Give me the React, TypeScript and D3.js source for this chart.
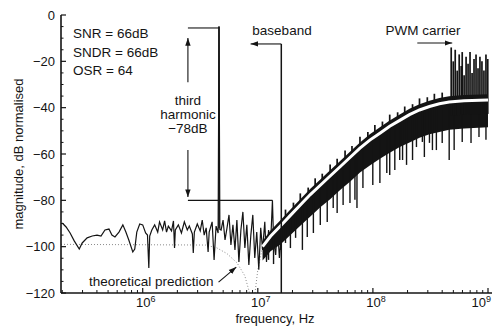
import React from "react";
import * as d3 from "d3";

// spectrum below ~17 MHz, read point by point: [frequency Hz, magnitude dB]
const lowTrace: [number, number][] = [
  [2.0e5, -89.8], [2.16e5, -91.5], [2.34e5, -94.1], [2.54e5, -97.5], [2.81e5, -101],
  [2.98e5, -98.4], [3.29e5, -96.2], [3.64e5, -95.4], [4.01e5, -95], [4.34e5, -95.4],
  [4.7e5, -92.8], [5.09e5, -92.4], [5.4e5, -95], [5.74e5, -95.8], [6.22e5, -93.7],
  [6.72e5, -90.6], [7.14e5, -93.7], [7.57e5, -97.1], [8.2e5, -102.3], [8.53e5, -101],
  [8.88e5, -93.7], [9.42e5, -90.2], [1.0e6, -90.6], [1.06e6, -94.1], [1.1e6, -95],
  [1.13e6, -109.2], [1.15e6, -95.4], [1.2e6, -92.8], [1.27e6, -90.6], [1.35e6, -93.7],
  [1.4e6, -89.3], [1.49e6, -92.8], [1.55e6, -88.9], [1.61e6, -93.7], [1.67e6, -91.1],
  [1.78e6, -93.2], [1.85e6, -88.9], [1.89e6, -100.6], [1.92e6, -92.8], [2.04e6, -90.6],
  [2.17e6, -94.1], [2.3e6, -89.3], [2.44e6, -92.8], [2.54e6, -91.1], [2.7e6, -94.5],
  [2.75e6, -102.7], [2.81e6, -93.7], [2.98e6, -90.2], [3.16e6, -93.2], [3.29e6, -88.5],
  [3.42e6, -95], [3.56e6, -91.9], [3.7e6, -102.3], [3.78e6, -93.7], [4.01e6, -89.3],
  [4.17e6, -105.7], [4.34e6, -91.1], [4.52e6, -94.1], [4.6e6, -5], [4.68e6, -92.5],
  [4.8e6, -92.8], [4.99e6, -88.5], [5.19e6, -97.1], [5.4e6, -91.9], [5.62e6, -86.3],
  [5.84e6, -99.3], [6.08e6, -90.6], [6.33e6, -101.4], [6.58e6, -88.5], [6.85e6, -106.6],
  [7.13e6, -92.8], [7.42e6, -85], [7.72e6, -100.6], [8.03e6, -90.6], [8.36e6, -107.9],
  [8.7e6, -95], [9.05e6, -86.3], [9.41e6, -104.9], [9.79e6, -93.7], [1.02e7, -110],
  [1.06e7, -91.9], [1.1e7, -101.4], [1.15e7, -89.3], [1.19e7, -106.6], [1.24e7, -92.8],
  [1.29e7, -99.3], [1.34e7, -80], [1.37e7, -97.1], [1.43e7, -103.6], [1.48e7, -90.6],
  [1.54e7, -104.9], [1.61e7, -93.7], [1.71e7, -89.3],
];

// dense noise band above the baseband
const bandFreq = [
  1.1e7, 1.29e7, 1.58e7, 1.92e7, 2.34e7, 2.86e7, 3.49e7, 4.25e7, 5.19e7, 6.32e7, 7.72e7,
  9.4e7, 1.15e8, 1.4e8, 1.71e8, 2.08e8, 2.54e8, 3.1e8, 3.78e8, 4.6e8, 6.2e8, 1e9,
];
const bandTop = [
  -97.5, -93, -88.5, -84, -79.5, -75, -71, -67, -63, -59, -55,
  -51.5, -48.5, -45.5, -43, -40.5, -38.5, -37, -35.8, -35.1, -34.5, -34.2,
];
const bandBottom = [
  -106, -102, -99, -95, -91, -87, -83, -79.5, -75.5, -72, -68,
  -65, -62, -59.5, -57, -55, -53, -51.5, -50.5, -49.5, -49, -48.5,
];
// theoretical curve (white line over the band)
const theoryDb = [
  -100, -95.5, -91, -86.5, -82, -77.5, -73.5, -69.5, -65.5, -61.5, -57.5,
  -54, -51, -48, -45.5, -43, -41, -39.5, -38.3, -37.6, -37, -36.7,
];
// theoretical prediction in the baseband (dotted, with the notch)
const theoryLow: [number, number][] = [
  [1.95e5, -99], [3.5e6, -99.3], [4.4e6, -100.5], [5.4e6, -103], [6.6e6, -107],
  [7.7e6, -112.5], [8.6e6, -121], [9.0e6, -128], [9.4e6, -121], [1.0e7, -110], [1.1e7, -100],
];

const downSpikes: [number, number][] = [
  [1.24e7, -105.7], [1.37e7, -107.5], [1.58e7, -101.4], [1.74e7, -98.4], [1.92e7, -100.6],
  [2.13e7, -96.2], [2.44e7, -101.4], [2.69e7, -95.8], [3.04e7, -94.1], [3.49e7, -90.6],
  [4.01e7, -89.3], [4.52e7, -83.3], [4.89e7, -85.5], [5.51e7, -82], [6.32e7, -81.1],
  [6.98e7, -79.8], [7.27e7, -83.3], [8.19e7, -74.7], [9.98e7, -73.4], [1.15e8, -72.5],
  [1.32e8, -68.2], [1.4e8, -69.1], [1.55e8, -66.9], [1.71e8, -62.6], [1.81e8, -62.6],
  [1.96e8, -64.7], [2.21e8, -62.6], [2.39e8, -57], [2.69e8, -54.8], [2.8e8, -61.3],
  [3.1e8, -55.2], [3.29e8, -58.3], [3.56e8, -58.3], [4.0e8, -55.2], [4.6e8, -62.6],
  [5.08e8, -58.3], [5.97e8, -54.8], [7.12e8, -55.2], [8.35e8, -52.7], [9.6e8, -53.9],
];
const upSpikes: [number, number][] = [
  [1.74e7, -84], [2.04e7, -81], [2.34e7, -77], [2.74e7, -74.5], [3.15e7, -70.5],
  [3.63e7, -68.5], [4.25e7, -64.5], [4.89e7, -62], [5.73e7, -58.5], [6.58e7, -56.5],
  [7.72e7, -52.5], [9.04e7, -50.5], [1.04e8, -47.5], [1.21e8, -46], [1.4e8, -43],
  [1.64e8, -42], [1.89e8, -39.5], [2.21e8, -38.5], [2.54e8, -36], [2.97e8, -35.5],
  [3.42e8, -34], [4.0e8, -33.5],
];
const carrierSpikes: [number, number][] = [
  [4.79e8, -14], [4.99e8, -20], [5.19e8, -15], [5.4e8, -24], [5.62e8, -17],
  [5.85e8, -22], [5.97e8, -16], [6.2e8, -26], [6.45e8, -18], [6.71e8, -21],
  [6.98e8, -16], [7.27e8, -25], [7.56e8, -19], [7.87e8, -17], [8.19e8, -23],
  [8.51e8, -18], [8.86e8, -20], [9.22e8, -24], [9.6e8, -17], [9.95e8, -19],
];

const yTicks = [0, -20, -40, -60, -80, -100, -120];
const xTicks = [1e6, 1e7, 1e8, 1e9];
const statsLines = ["SNR = 66dB", "SNDR = 66dB", "OSR = 64"];
const harmonicLines = ["third", "harmonic", "\u221278dB"];

// annotation anchors (data units)
const fundamental = { f: 4.6e6, db: -5 };
const harmonic = { f: 1.34e7, db: -80 };
const bracketF = 2.47e6;
const basebandF = 1.6e7;

const FONT = "'Liberation Sans', Arial, Helvetica, sans-serif";
const INK = "#141414";

export default function App() {
  const x = d3.scaleLog().domain([1.95e5, 1e9]).range([61, 488]);
  const y = d3.scaleLinear().domain([-120, 0]).range([293, 15]);
  const whiteAt = d3.scaleLog<number>().domain(bandFreq).range(theoryDb).clamp(true);

  const line = d3.line<[number, number]>().x((d) => x(d[0])).y((d) => y(d[1]));
  const band = d3
    .area<number>()
    .x((f) => x(f))
    .y0((_, i) => y(bandBottom[i]))
    .y1((_, i) => y(bandTop[i]));
  const theoryHigh: [number, number][] = bandFreq.map((f, i) => [f, theoryDb[i]]);

  const minorX: number[] = [];
  for (let e = 5; e < 9; e++)
    for (let k = 2; k <= 9; k++) {
      const v = k * Math.pow(10, e);
      if (v > 1.95e5 && v < 1e9) minorX.push(v);
    }
  const minorY = d3.range(-115, 0, 5).filter((v) => v % 20 !== 0);

  const bx = x(bracketF);

  return (
    <svg
      width={492}
      height={329}
      style={{ position: "absolute", left: 0, top: 0, background: "#fff" }}
      fontFamily={FONT}
    >
      <defs>
        <clipPath id="plot">
          <rect x={61} y={8} width={431} height={285} />
        </clipPath>
        <marker id="arr" viewBox="0 0 10 10" refX="10" refY="5" markerWidth="7" markerHeight="7" orient="auto">
          <path d="M0,1.5 L10,5 L0,8.5 Z" fill={INK} />
        </marker>
      </defs>

      <g clipPath="url(#plot)">
        <path d={line(theoryLow) ?? ""} fill="none" stroke="#8a8a8a" strokeWidth={1} strokeDasharray="1 2" />
        <path d={line(lowTrace) ?? ""} fill="none" stroke={INK} strokeWidth={1.2} />
        <path d={band(bandFreq) ?? ""} fill={INK} />
        {downSpikes.map(([f, db], i) => (
          <line key={"d" + i} x1={x(f)} x2={x(f)} y1={y(whiteAt(f))} y2={y(db)} stroke={INK} strokeWidth={1.4} />
        ))}
        {upSpikes.map(([f, db], i) => (
          <line key={"u" + i} x1={x(f)} x2={x(f)} y1={y(whiteAt(f))} y2={y(db)} stroke={INK} strokeWidth={1.7} />
        ))}
        {carrierSpikes.map(([f, db], i) => (
          <line key={"c" + i} x1={x(f)} x2={x(f)} y1={y(whiteAt(f) - 6)} y2={y(db)} stroke={INK} strokeWidth={1.7} />
        ))}
        <path d={line(theoryHigh) ?? ""} fill="none" stroke="#fff" strokeWidth={3} />
      </g>

      {/* third harmonic bracket */}
      <g stroke={INK} strokeWidth={1.1} fill="none">
        <line x1={bx} x2={x(fundamental.f)} y1={y(fundamental.db - 0.6)} y2={y(fundamental.db - 0.6)} />
        <line x1={bx} x2={x(harmonic.f)} y1={y(harmonic.db)} y2={y(harmonic.db)} />
        <line x1={bx} x2={bx} y1={y(-29)} y2={y(-9.9)} markerEnd="url(#arr)" />
        <line x1={bx} x2={bx} y1={y(-58.3)} y2={y(-78.6)} markerEnd="url(#arr)" />
        <line x1={x(fundamental.f)} x2={x(fundamental.f)} y1={y(fundamental.db)} y2={y(-92)} strokeWidth={1.6} />
        {/* baseband */}
        <line x1={x(basebandF)} x2={x(basebandF)} y1={y(-12.5)} y2={y(-120)} strokeWidth={1.5} />
        <line x1={x(basebandF)} x2={x(8.65e6)} y1={y(-12.5)} y2={y(-12.5)} markerEnd="url(#arr)" />
        {/* PWM carrier */}
        <line x1={x(2.43e8)} x2={x(4.89e8)} y1={y(-12.1)} y2={y(-12.1)} markerEnd="url(#arr)" />
        {/* theoretical prediction */}
        <line x1={x(4.56e6)} x2={x(6.5e6)} y1={y(-115.3)} y2={y(-108.8)} markerEnd="url(#arr)" />
      </g>

      <g fill={INK} fontSize={13.5}>
        {statsLines.map((s, i) => (
          <text key={s} x={73} y={38 + i * 18.5}>{s}</text>
        ))}
        {harmonicLines.map((s, i) => (
          <text key={s} x={bx} y={105 + i * 14} textAnchor="middle">{s}</text>
        ))}
        <text x={282} y={35} textAnchor="middle">baseband</text>
        <text x={423} y={35} textAnchor="middle">PWM carrier</text>
        <text x={89} y={286}>theoretical prediction</text>
      </g>

      {/* axes */}
      <g stroke={INK} fill="none">
        <line x1={61} x2={61} y1={y(0)} y2={y(-120)} strokeWidth={1.6} />
        <line x1={61} x2={492} y1={y(-120)} y2={y(-120)} strokeWidth={1.6} />
        {yTicks.map((t) => (
          <line key={"yt" + t} x1={61} x2={66} y1={y(t)} y2={y(t)} strokeWidth={1.2} />
        ))}
        {minorY.map((t) => (
          <line key={"ym" + t} x1={61} x2={63.5} y1={y(t)} y2={y(t)} strokeWidth={1} />
        ))}
        {xTicks.map((t) => (
          <line key={"xt" + t} x1={x(t)} x2={x(t)} y1={293} y2={288} strokeWidth={1.2} />
        ))}
        {minorX.map((t) => (
          <line key={"xm" + t} x1={x(t)} x2={x(t)} y1={293} y2={290} strokeWidth={1} />
        ))}
      </g>
      <g fill={INK} fontSize={13}>
        {yTicks.map((t) => (
          <text key={"yl" + t} x={55} y={y(t) + 4.5} textAnchor="end">
            {t === 0 ? "0" : "\u2212" + Math.abs(t)}
          </text>
        ))}
        {xTicks.map((t) => {
          const last = t === xTicks[xTicks.length - 1];
          return (
            <text
              key={"xl" + t}
              x={last ? 491 : x(t) + 3}
              y={307}
              textAnchor={last ? "end" : "middle"}
            >
              10<tspan dy={-5} fontSize={9}>{Math.round(Math.log10(t))}</tspan>
            </text>
          );
        })}
        <text transform="translate(23,154) rotate(-90)" textAnchor="middle">magnitude, dB normalised</text>
        <text x={275} y={323} textAnchor="middle">frequency, Hz</text>
      </g>
    </svg>
  );
}
